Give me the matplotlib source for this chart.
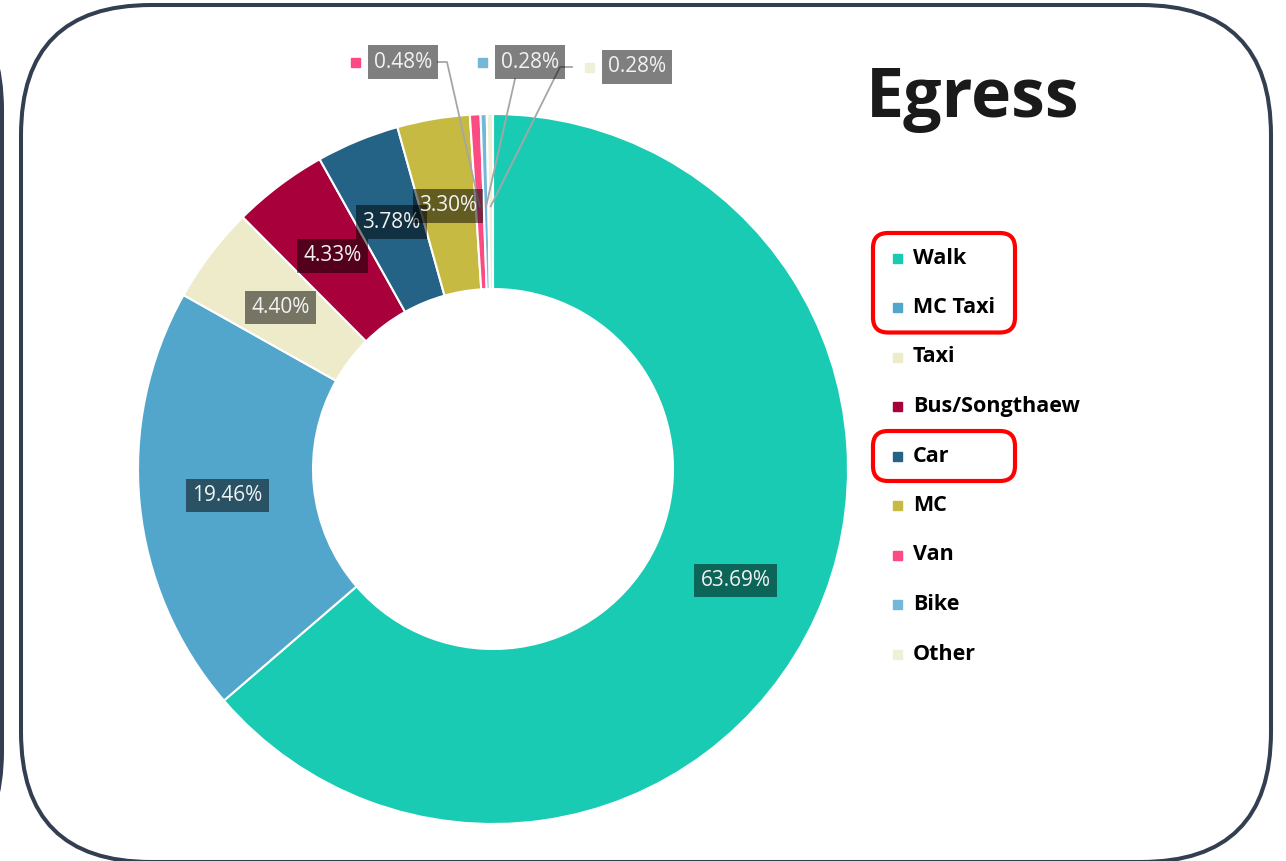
"""
Egress mode share - donut chart with legend and highlighted modes.
"""

import numpy as np
import matplotlib.pyplot as plt
from matplotlib.patches import FancyBboxPatch, Rectangle

W, H = 1286, 861

# Data
modes = ["Walk", "MC Taxi", "Taxi", "Bus/Songthaew", "Car", "MC", "Van", "Bike", "Other"]
shares = [63.69, 19.46, 4.40, 4.33, 3.78, 3.30, 0.48, 0.28, 0.28]
colors = ["#19CBB3", "#53A6CB", "#EEEBCA", "#A7003B", "#246385",
          "#C7BA42", "#FB4B82", "#74B7D8", "#EFF0D7"]
highlighted = [["Walk", "MC Taxi"], ["Car"]]
title = "Egress"

# Layout (image pixel coords, y measured from top)
cx, cy_img, R = 493, 469, 355
small_label_pos = [(403, 62), (530, 62), (637, 67)]
small_label_path = [[(438, 62), (447, 62)], [(515, 79)], [(572, 67), (560, 67)]]
legend_x, legend_y0, legend_step = 897, 258, 49.5


def Y(y):
    return H - y


fig = plt.figure(figsize=(W / 100, H / 100), dpi=100)
ax = fig.add_axes([0, 0, 1, 1])

cy = Y(cy_img)
wedges, _ = ax.pie(
    shares,
    colors=colors,
    startangle=90,
    counterclock=False,
    center=(cx, cy),
    radius=R,
    wedgeprops=dict(width=175, edgecolor="white", linewidth=1.5),
)
ax.set_xlim(0, W)
ax.set_ylim(0, H)
ax.set_aspect("equal")
ax.axis("off")

box_style = dict(boxstyle="square,pad=0.3", fc="black", ec="none", alpha=0.5)
label_font = dict(family=["Open Sans", "DejaVu Sans"], fontsize=15, color="#f2f2f2")

# Data labels: inside for big slices, outside with leader lines for small ones
k = 0
for w, val, col in zip(wedges, shares, colors):
    ang = np.deg2rad((w.theta1 + w.theta2) / 2)
    if val >= 1:
        r = 0.752 * R
        ax.text(cx + r * np.cos(ang), cy + r * np.sin(ang), f"{val:.2f}%",
                ha="center", va="center", bbox=box_style, zorder=6, **label_font)
        continue
    lx, ly = small_label_pos[k]
    ax.text(lx, Y(ly), f"{val:.2f}%", ha="center", va="center",
            bbox=box_style, zorder=6, **label_font)
    ax.add_patch(Rectangle((lx - 48 - 4.5, Y(ly) - 4.5), 9, 9, color=col, zorder=6))
    r = 0.74 * R
    pts = [(px, Y(py)) for px, py in small_label_path[k]]
    pts.append((cx + r * np.cos(ang), cy + r * np.sin(ang)))
    pts = np.array(pts)
    ax.plot(pts[:, 0], pts[:, 1], color="#a6a6a6", lw=1.3, zorder=5)
    k += 1

# Title
ax.text(1080, Y(117), title, ha="right", va="baseline", fontsize=49,
        fontweight="bold", color="#1a1a1a", family=["Open Sans", "DejaVu Sans"])

# Legend
row_y = {}
for i, (lab, col) in enumerate(zip(modes, colors)):
    y = legend_y0 + i * legend_step
    row_y[lab] = y
    ax.add_patch(Rectangle((legend_x - 4.5, Y(y) - 4.5), 9, 9, color=col))
    ax.text(legend_x + 16, Y(y), lab, ha="left", va="center", fontsize=15.5,
            fontweight="bold", color="black", family=["Open Sans", "DejaVu Sans"])

# Red highlight boxes around selected legend entries
for group in highlighted:
    top = row_y[group[0]] - 25
    bot = row_y[group[-1]] + 25
    ax.add_patch(FancyBboxPatch((873, Y(bot)), 142, bot - top,
                                boxstyle="round,pad=0,rounding_size=15",
                                fill=False, ec="#ff0000", lw=3.0, zorder=7))

# Panel frames
ax.add_patch(FancyBboxPatch((21, Y(862)), 1250, 857,
                            boxstyle="round,pad=0,rounding_size=130",
                            fill=False, ec="#333F50", lw=2.9))
ax.add_patch(FancyBboxPatch((-1300, Y(881)), 1302, 901,
                            boxstyle="round,pad=0,rounding_size=130",
                            fill=False, ec="#333F50", lw=2.9))

fig.savefig("out.png", dpi=100)
